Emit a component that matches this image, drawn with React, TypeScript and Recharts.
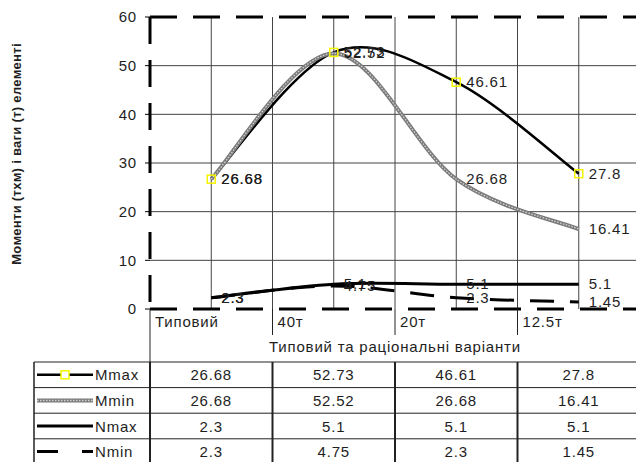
import React from 'react';
import { LineChart, Line, XAxis, YAxis, CartesianGrid, ReferenceLine, LabelList } from 'recharts';

const categories = ['Типовий', '40т', '20т', '12.5т'];
const mmax = [26.68, 52.73, 46.61, 27.8];
const mmin = [26.68, 52.52, 26.68, 16.41];
const nmax = [2.3, 5.1, 5.1, 5.1];
const nmin = [2.3, 4.75, 2.3, 1.45];
const seriesNames = ['Mmax', 'Mmin', 'Nmax', 'Nmin'];
const yTicks = [0, 10, 20, 30, 40, 50, 60];
const xTitle = 'Типовий та раціональні варіанти';
const yTitle = 'Моменти (тхм) і ваги (т) елементі';

const data = categories.map((c, i) => ({
  x: i + 0.5,
  cat: categories[i],
  mmax: mmax[i],
  mmin: mmin[i],
  nmax: nmax[i],
  nmin: nmin[i],
}));
const tableRows = [mmax, mmin, nmax, nmin];

// layout
const CHART_W = 660;
const CHART_H = 362;
const Y_W = 150;
const RIGHT = 20;
const TOP = 17;
const X_H = 53;
const PLOT_W = CHART_W - Y_W - RIGHT;
const BW = PLOT_W / categories.length;
const TABLE_TOP = 362;
const ROW_H = 25.6;
const LEG_X0 = 34;
const FONT = "'Liberation Sans', Arial, Helvetica, sans-serif";
const TXT = '#1e1e1e';
const FS = 15;

const xTickValues = categories.map((_, i) => i + 0.5);
const gridX: number[] = [];
for (let i = 0; i < categories.length; i++) {
  gridX.push(i + 0.5);
  if (i > 0) gridX.push(i);
}
gridX.sort((a, b) => a - b);

function excelSmooth(context: any) {
  let pts: number[][] = [];
  return {
    areaStart() {},
    areaEnd() {},
    lineStart() {
      pts = [];
    },
    point(x: number, y: number) {
      pts.push([+x, +y]);
    },
    lineEnd() {
      const n = pts.length;
      if (n === 0) return;
      context.moveTo(pts[0][0], pts[0][1]);
      if (n === 1) return;
      for (let i = 0; i < n - 1; i++) {
        const p0 = pts[Math.max(0, i - 1)];
        const p1 = pts[i];
        const p2 = pts[i + 1];
        const p3 = pts[Math.min(n - 1, i + 2)];
        context.bezierCurveTo(
          p1[0] + (p2[0] - p0[0]) / 6,
          p1[1] + (p2[1] - p0[1]) / 6,
          p2[0] - (p3[0] - p1[0]) / 6,
          p2[1] - (p3[1] - p1[1]) / 6,
          p2[0],
          p2[1]
        );
      }
    },
  };
}

const renderLabel = (props: any) => {
  const { x, y, value } = props;
  if (x == null || y == null) return null;
  return (
    <text x={x + 10} y={y + 5} fontSize={FS} fill={TXT} fontFamily={FONT}>
      {String(value)}
    </text>
  );
};

const SquareDot = (props: any) => {
  const { cx, cy, index } = props;
  if (cx == null || cy == null) return <g key={`d${index}`} />;
  return (
    <rect
      key={`d${index}`}
      x={cx - 4}
      y={cy - 4}
      width={8}
      height={8}
      fill="none"
      stroke="#f5f500"
      strokeWidth={1.5}
    />
  );
};

const XTick = (props: any) => {
  const { x, y, payload, index } = props;
  const idx = Math.floor(payload.value);
  const left = x - BW / 2;
  return (
    <g>
      <line x1={left} y1={y} x2={left} y2={y + (index === 0 ? X_H : 26)} stroke="#222" strokeWidth={1} />
      <text x={left + 5} y={y + 18} fontSize={FS} fill={TXT} fontFamily={FONT}>
        {categories[idx]}
      </text>
    </g>
  );
};

const dashed = { stroke: '#000', strokeWidth: 3, strokeDasharray: '27 16' };

function LegendSample({ i, y }: { i: number; y: number }) {
  const x1 = 37;
  const x2 = 93;
  if (i === 0) {
    return (
      <g>
        <line x1={x1} y1={y} x2={x2} y2={y} stroke="#000" strokeWidth={2.5} />
        <rect x={(x1 + x2) / 2 - 4} y={y - 4} width={8} height={8} fill="#fff" stroke="#f5f500" strokeWidth={1.5} />
      </g>
    );
  }
  if (i === 1) {
    return (
      <g>
        <line x1={x1} y1={y} x2={x2} y2={y} stroke="#7a7a7a" strokeWidth={4} />
        <line x1={x1} y1={y} x2={x2} y2={y} stroke="#d4d4d4" strokeWidth={1.5} strokeDasharray="1.5 1.5" />
      </g>
    );
  }
  if (i === 2) {
    return <line x1={x1} y1={y} x2={x2} y2={y} stroke="#000" strokeWidth={3} />;
  }
  return <line x1={x1} y1={y} x2={x2} y2={y} stroke="#000" strokeWidth={3} strokeDasharray="21 24" />;
}

export default function App() {
  const tableRight = Y_W + PLOT_W;
  return (
    <div
      style={{
        position: 'relative',
        width: 636,
        height: 462,
        overflow: 'hidden',
        fontFamily: FONT,
        letterSpacing: '0.8px',
        background: '#fff',
      }}
    >
      <style>{`body{margin:0;overflow:hidden;}`}</style>
      <LineChart width={CHART_W} height={CHART_H} data={data} margin={{ top: TOP, right: RIGHT, left: 0, bottom: 0 }}>
        <CartesianGrid
          stroke="#444"
          strokeWidth={1}
          horizontalValues={[10, 20, 30, 40, 50]}
          verticalValues={gridX}
        />
        <XAxis
          dataKey="x"
          type="number"
          domain={[0, categories.length]}
          ticks={xTickValues}
          interval={0}
          height={X_H}
          tickLine={false}
          tickSize={0}
          tickMargin={0}
          axisLine={dashed}
          tick={<XTick />}
        />
        <YAxis
          width={Y_W}
          domain={[0, 60]}
          ticks={yTicks}
          interval={0}
          tickSize={5}
          tickMargin={8}
          tickLine={{ stroke: '#000', strokeWidth: 1 }}
          axisLine={dashed}
          tick={{ fontSize: FS, fill: TXT, fontFamily: FONT }}
        />
        <ReferenceLine y={60} stroke="#000" strokeWidth={3} strokeDasharray="27 16" ifOverflow="visible" />
        <Line
          dataKey="mmax"
          type={excelSmooth as any}
          stroke="#000"
          strokeWidth={2.5}
          dot={SquareDot}
          activeDot={false}
          isAnimationActive={false}
        >
          <LabelList dataKey="mmax" content={renderLabel} />
        </Line>
        <Line
          dataKey="mmin"
          type={excelSmooth as any}
          stroke="#7a7a7a"
          strokeWidth={4}
          dot={false}
          activeDot={false}
          isAnimationActive={false}
        />
        <Line
          dataKey="mmin"
          type={excelSmooth as any}
          stroke="#d4d4d4"
          strokeWidth={1.3}
          strokeDasharray="1.5 1.5"
          dot={false}
          activeDot={false}
          isAnimationActive={false}
        >
          <LabelList dataKey="mmin" content={renderLabel} />
        </Line>
        <Line
          dataKey="nmax"
          type={excelSmooth as any}
          stroke="#000"
          strokeWidth={3}
          dot={false}
          activeDot={false}
          isAnimationActive={false}
        >
          <LabelList dataKey="nmax" content={renderLabel} />
        </Line>
        <Line
          dataKey="nmin"
          type={excelSmooth as any}
          stroke="#000"
          strokeWidth={3}
          strokeDasharray="24 16"
          dot={false}
          activeDot={false}
          isAnimationActive={false}
        >
          <LabelList dataKey="nmin" content={renderLabel} />
        </Line>
      </LineChart>
      <svg
        width={636}
        height={462}
        style={{ position: 'absolute', left: 0, top: 0, pointerEvents: 'none' }}
        fontFamily={FONT}
      >
        <text
          x={21}
          y={154}
          transform="rotate(-90 21 154)"
          textAnchor="middle"
          fontSize={13}
          fontWeight="bold"
          fill={TXT}
          style={{ letterSpacing: '0.3px' }}
        >
          {yTitle}
        </text>
        <text x={Y_W + PLOT_W / 2} y={352} textAnchor="middle" fontSize={FS} fill={TXT}>
          {xTitle}
        </text>
        {/* table */}
        {tableRows.map((_, r) => (
          <line
            key={`h${r}`}
            x1={LEG_X0}
            y1={TABLE_TOP + r * ROW_H}
            x2={tableRight}
            y2={TABLE_TOP + r * ROW_H}
            stroke="#222"
            strokeWidth={1}
          />
        ))}
        <line x1={LEG_X0} y1={TABLE_TOP} x2={LEG_X0} y2={TABLE_TOP + 4 * ROW_H} stroke="#222" strokeWidth={1.5} />
        <line x1={Y_W} y1={TABLE_TOP} x2={Y_W} y2={TABLE_TOP + 4 * ROW_H} stroke="#222" strokeWidth={2} />
        {categories.map((_, c) =>
          c > 0 ? (
            <line
              key={`v${c}`}
              x1={Y_W + c * BW}
              y1={TABLE_TOP}
              x2={Y_W + c * BW}
              y2={TABLE_TOP + 4 * ROW_H}
              stroke="#222"
              strokeWidth={2}
            />
          ) : null
        )}
        {tableRows.map((row, r) => {
          const cy = TABLE_TOP + r * ROW_H + ROW_H / 2;
          return (
            <g key={`r${r}`}>
              <LegendSample i={r} y={cy} />
              <text x={95} y={cy + 5.5} fontSize={FS} fill={TXT}>
                {seriesNames[r]}
              </text>
              {row.map((v, c) => (
                <text key={c} x={Y_W + c * BW + BW / 2} y={cy + 5.5} textAnchor="middle" fontSize={FS} fill={TXT}>
                  {String(v)}
                </text>
              ))}
            </g>
          );
        })}
      </svg>
    </div>
  );
}
